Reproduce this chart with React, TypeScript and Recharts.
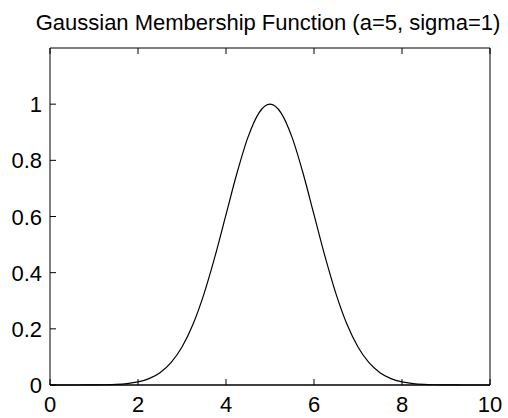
import { LineChart, Line, XAxis, YAxis } from "recharts";

// membership curve sampled every 0.25 on [0, 10]
const xs = [
  0, 0.25, 0.5, 0.75, 1, 1.25, 1.5, 1.75, 2, 2.25, 2.5, 2.75, 3, 3.25, 3.5, 3.75, 4, 4.25, 4.5, 4.75,
  5, 5.25, 5.5, 5.75, 6, 6.25, 6.5, 6.75, 7, 7.25, 7.5, 7.75, 8, 8.25, 8.5, 8.75, 9, 9.25, 9.5, 9.75, 10,
];
const mu = [
  0.0, 0.0, 0.0, 0.0001, 0.0003, 0.0009, 0.0022, 0.0051, 0.0111, 0.0228, 0.0439, 0.0796, 0.1353,
  0.2163, 0.3247, 0.4578, 0.6065, 0.7548, 0.8825, 0.9692, 1.0, 0.9692, 0.8825, 0.7548, 0.6065, 0.4578,
  0.3247, 0.2163, 0.1353, 0.0796, 0.0439, 0.0228, 0.0111, 0.0051, 0.0022, 0.0009, 0.0003, 0.0001, 0.0,
  0.0, 0.0,
];
const xTicks = [0, 2, 4, 6, 8, 10];
const yTicks = [0, 0.2, 0.4, 0.6, 0.8, 1];
const yTickLabels = ["0", "0.2", "0.4", "0.6", "0.8", "1"];

const data = xs.map((x, i) => ({ x, y: mu[i] }));

const FONT = "Liberation Sans, Arial, sans-serif";
const FS = 22;

// ticks point inward, labels sit outside the box
const BottomTick = (props: any) => {
  const { x, y, payload } = props;
  return (
    <g>
      <line x1={x} y1={y} x2={x} y2={y - 6} stroke="#000" />
      <text x={x} y={y + 27} textAnchor="middle" fontSize={FS} fontFamily={FONT} fill="#000">
        {payload.value}
      </text>
    </g>
  );
};

const LeftTick = (props: any) => {
  const { x, y, payload } = props;
  const idx = yTicks.indexOf(payload.value);
  return (
    <g>
      <line x1={x} y1={y} x2={x + 6} y2={y} stroke="#000" />
      <text x={x - 8} y={y + 8} textAnchor="end" fontSize={FS} fontFamily={FONT} fill="#000">
        {idx >= 0 ? yTickLabels[idx] : payload.value}
      </text>
    </g>
  );
};

const Empty = () => <g />;

export default function App() {
  return (
    <div style={{ position: "absolute", left: 0, top: 0, width: 508, height: 418, background: "#fff" }}>
      <LineChart width={508} height={418} data={data} margin={{ top: 48, right: 18, bottom: 0, left: 0 }}>
        <text x={268} y={30} textAnchor="middle" fontSize={22} fontFamily={FONT} fill="#000">
          Gaussian Membership Function (a=5, sigma=1)
        </text>
        <XAxis
          dataKey="x"
          type="number"
          domain={[0, 10]}
          ticks={xTicks}
          height={33}
          tickSize={0}
          tickMargin={0}
          tick={<BottomTick />}
          axisLine={{ stroke: "#000", strokeWidth: 1.5 }}
          tickLine={false}
          interval={0}
        />
        <XAxis
          xAxisId="top"
          dataKey="x"
          type="number"
          orientation="top"
          domain={[0, 10]}
          ticks={xTicks}
          mirror
          tickSize={6}
          tick={<Empty />}
          axisLine={{ stroke: "#000" }}
          tickLine={{ stroke: "#000" }}
          interval={0}
        />
        <YAxis
          type="number"
          domain={[0, 1.2]}
          ticks={yTicks}
          width={50}
          tickSize={0}
          tickMargin={0}
          tick={<LeftTick />}
          axisLine={{ stroke: "#000" }}
          tickLine={false}
          interval={0}
        />
        <YAxis
          yAxisId="right"
          type="number"
          orientation="right"
          domain={[0, 1.2]}
          ticks={yTicks}
          mirror
          tickSize={6}
          tick={<Empty />}
          axisLine={{ stroke: "#000" }}
          tickLine={{ stroke: "#000" }}
          interval={0}
        />
        <Line
          dataKey="y"
          type="monotone"
          stroke="#000"
          strokeWidth={1.2}
          dot={false}
          isAnimationActive={false}
        />
      </LineChart>
    </div>
  );
}
